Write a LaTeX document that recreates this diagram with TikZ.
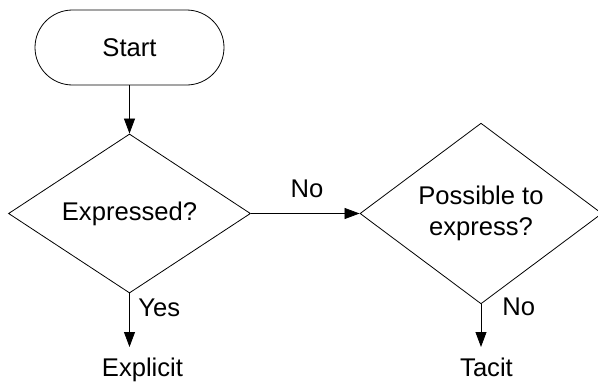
\documentclass[tikz,border=0pt]{standalone}
\usepackage{fontspec}
\setmainfont{Liberation Sans}
\usetikzlibrary{shapes.geometric,arrows.meta}
\begin{document}
\begin{tikzpicture}[x=1pt,y=-1pt,
  line width=0.8pt,
  every node/.style={font=\fontsize{25.6}{31.6}\selectfont},
  terminal/.style={draw, rounded corners=37.5pt, minimum width=189pt,
    minimum height=75pt, inner sep=0pt},
  decision/.style={draw, diamond, minimum width=242pt, minimum height=142pt,
    inner sep=0pt, align=center},
  outcome/.style={inner sep=0pt, anchor=base},
  edgetext/.style={inner sep=0pt},
  flow/.style={draw, -{Triangle[length=15pt,width=11pt]}}]
  \useasboundingbox (0,0) rectangle (598,383);

  % shapes of the flow
  \node[terminal] (start) at (129.5,47.5) {Start};
  \node[decision] (expr) at (129.5,213.5) {Expressed?};
  \node[decision] (poss) at (481,213.5) {Possible to\\express?};

  % outcomes
  \coordinate (yesend) at (129.5,347);
  \coordinate (noend) at (481,347);
  \node[outcome] (explicit) at (142.5,376.7) {Explicit};
  \node[outcome] (tacit) at (486.5,376.7) {Tacit};

  % connectors
  \draw[flow] (start) -- (expr);
  \draw[flow] (expr) -- (poss);
  \draw[flow] (expr.south) -- (yesend);
  \draw[flow] (poss.south) -- (noend);

  % branch labels
  \node[edgetext, anchor=base] (no1) at (307,197) {No};
  \node[edgetext, anchor=base west] (yes) at (138,316) {Yes};
  \node[edgetext, anchor=base west] (no2) at (502,315) {No};
\end{tikzpicture}
\end{document}
